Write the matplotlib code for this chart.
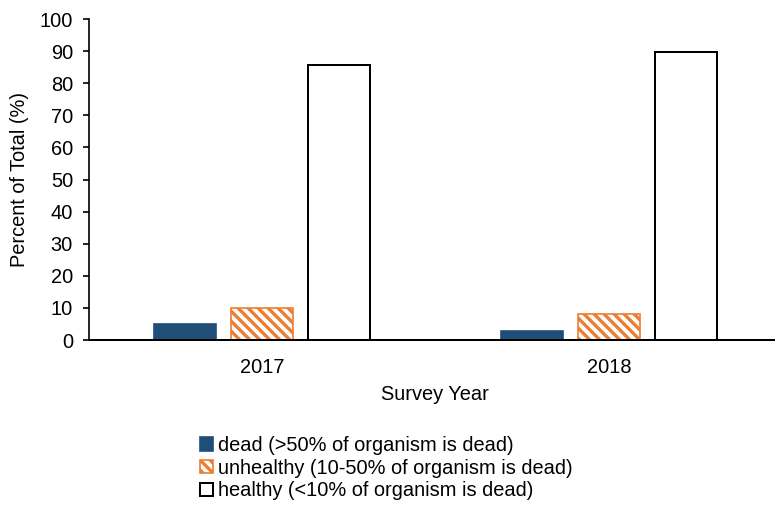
import matplotlib
matplotlib.use('Agg')
import matplotlib.pyplot as plt
import numpy as np

plt.rcParams['font.family'] = ['Liberation Sans', 'DejaVu Sans']
plt.rcParams['hatch.linewidth'] = 2.0
plt.rcParams['hatch.color'] = '#ED7D31'

years = ['2017', '2018']
dead = [4.9, 2.8]
unhealthy = [9.9, 8.0]
healthy = [85.7, 89.8]
labels = ['dead (>50% of organism is dead)',
          'unhealthy (10-50% of organism is dead)',
          'healthy (<10% of organism is dead)']

fs = 12
fig = plt.figure(figsize=(775 / 120, 510 / 120), dpi=120)
ax = fig.add_axes([89 / 775, 170 / 510, (775 - 89) / 775, (340 - 19) / 510])

x = np.arange(len(years))
w = 0.179
step = 0.222
ax.bar(x - step, dead, w, color='#1F4E79', edgecolor='#1F4E79', label=labels[0])
ax.bar(x, unhealthy, w, color='white', edgecolor='#ED7D31', hatch='\\\\\\\\',
       linewidth=1.0, label=labels[1])
ax.bar(x + step, healthy, w, color='white', edgecolor='black',
       linewidth=1.2, label=labels[2])

ax.set_xlim(-0.5, 1.478)
ax.set_ylim(0, 100)
ax.set_yticks(range(0, 101, 10))
ax.set_xticks(x)
ax.set_xticklabels(years)
ax.tick_params(axis='x', length=0, labelsize=fs, pad=11)
ax.tick_params(axis='y', length=3.6, width=1.0, labelsize=fs, pad=6)

for s in ['top', 'right']:
    ax.spines[s].set_visible(False)
ax.spines['left'].set_linewidth(1.0)
ax.spines['bottom'].set_linewidth(1.2)

ax.set_ylabel('Percent of Total (%)', fontsize=fs)
ax.set_xlabel('Survey Year', fontsize=fs)
ax.xaxis.set_label_coords(0.504, -0.14)
ax.yaxis.set_label_coords(-0.088, 0.5)

ax.legend(loc='upper left', bbox_to_anchor=(200 / 775, 74 / 510),
          bbox_transform=fig.transFigure, frameon=False, fontsize=fs,
          handlelength=0.65, handleheight=0.65, handletextpad=0.25,
          labelspacing=0.18, borderpad=0, borderaxespad=0)

fig.savefig('out.png', dpi=120)
